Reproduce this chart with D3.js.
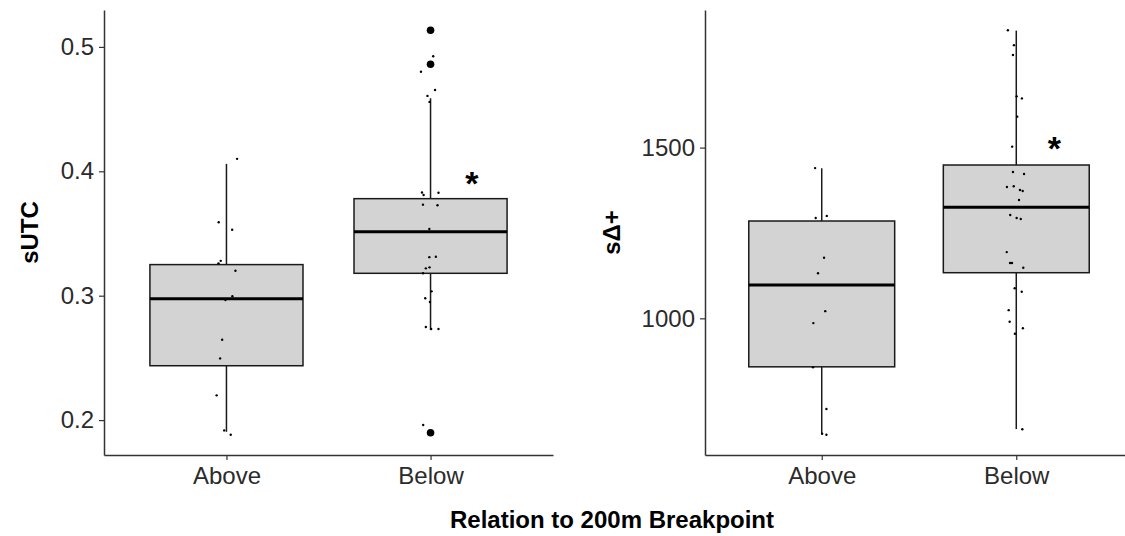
<!DOCTYPE html>
<html>
<head>
<meta charset="utf-8">
<script src="https://cdn.jsdelivr.net/npm/d3@7"></script>
<style>
  body { margin: 0; background: #fff; }
  svg { font-family: 'Liberation Sans', Arial, sans-serif; }
</style>
</head>
<body>
<div id="chart"></div>
<script>
// categorías y estadísticas
const categories = ['Above', 'Below'];

// panel izquierdo: sUTC
const utcLower  = [0.1906, 0.2724];
const utcQ1     = [0.2437, 0.318];
const utcMedian = [0.2976, 0.3514];
const utcQ3     = [0.325, 0.378];
const utcUpper  = [0.406, 0.4587];
const utcOutliers = [[], [0.5134, 0.486, 0.1898]];
const utcPointsAbove = [0.41, 0.359, 0.353, 0.326, 0.328, 0.320, 0.2995, 0.2965, 0.2646, 0.2496, 0.2199, 0.1917, 0.1882];
const utcJitterAbove = [0.052, -0.038, 0.028, -0.039, -0.028, 0.044, 0.029, -0.005, -0.021, -0.031, -0.048, -0.011, 0.021];
const utcPointsBelow = [0.4925, 0.480, 0.4654, 0.4606, 0.4558, 0.383, 0.381, 0.3828, 0.3732, 0.3727, 0.3536, 0.331, 0.3313, 0.322, 0.3228, 0.318, 0.3035, 0.2979, 0.2949, 0.2748, 0.2732, 0.2732, 0.196];
const utcJitterBelow = [0.013, -0.047, 0.022, -0.015, -0.005, -0.042, -0.034, 0.039, -0.037, 0.034, -0.006, -0.006, 0.026, -0.023, -0.005, -0.037, 0.005, -0.026, -0.003, -0.023, 0.003, 0.039, -0.036];
const utcTicks = [0.2, 0.3, 0.4, 0.5];

// panel derecho: sΔ+
const dLower  = [661, 675.7];
const dQ1     = [858, 1133.6];
const dMedian = [1097.6, 1325];
const dQ3     = [1285, 1449];
const dUpper  = [1439.5, 1842.6];
const dOutliers = [[], []];
const dPointsAbove = [1440, 1294, 1300, 1177.5, 1131.8, 1021, 986, 856.5, 734.3, 662, 659];
const dJitterAbove = [-0.034, -0.031, 0.026, 0.012, -0.019, 0.018, -0.043, -0.045, 0.024, 0.002, 0.024];
const dPointsBelow = [1843.7, 1800, 1771, 1650, 1644, 1590.6, 1502.7, 1428.6, 1422.8, 1384.7, 1386.7, 1376, 1373, 1346.6, 1302.6, 1293.8, 1291, 1194, 1162, 1162, 1148, 1088, 1078, 1024, 990, 971, 955, 675];
const dJitterBelow = [-0.043, -0.012, -0.017, 0.002, 0.029, 0.005, -0.021, -0.017, 0.040, -0.048, -0.013, 0.019, 0.033, 0.014, -0.031, 0.002, 0.023, -0.049, -0.032, -0.022, 0.036, -0.008, 0.028, -0.039, -0.034, 0.034, -0.007, 0.031];
const dTicks = [1000, 1500];

// asterisco de significancia (posición en unidades de datos)
const starUtc = { cat: 'Below', offset: 0.203, value: 0.3957 };
const starD = { cat: 'Below', offset: 0.196, value: 1517 };

const width = 1125, height = 536;
const svg = d3.select('#chart').append('svg')
    .attr('width', width)
    .attr('height', height);

function drawPanel(opts) {
    const { x0, x1, y0, y1, lower, q1, median, q3, upper, outliers, points, jitters, ticks, fmt, title, star } = opts;

    const allVals = points.flat().concat(outliers.flat()).concat(lower, upper);
    const [mn, mx] = d3.extent(allVals);
    const pad = (mx - mn) * 0.05;

    const x = d3.scalePoint().domain(categories).range([x0, x1]).padding(0.6);
    const y = d3.scaleLinear().domain([mn - pad, mx + pad]).range([y1, y0]);
    const step = x.step();
    const bw = step * 0.75;

    const g = svg.append('g');

    // cajas
    categories.forEach((c, i) => {
        const cx = x(c);
        g.append('line')
            .attr('x1', cx).attr('x2', cx)
            .attr('y1', y(upper[i])).attr('y2', y(q3[i]))
            .attr('stroke', '#1a1a1a').attr('stroke-width', 1.5);
        g.append('line')
            .attr('x1', cx).attr('x2', cx)
            .attr('y1', y(q1[i])).attr('y2', y(lower[i]))
            .attr('stroke', '#1a1a1a').attr('stroke-width', 1.5);
        g.append('rect')
            .attr('x', cx - bw / 2).attr('width', bw)
            .attr('y', y(q3[i])).attr('height', y(q1[i]) - y(q3[i]))
            .attr('fill', '#d3d3d3')
            .attr('stroke', '#1a1a1a').attr('stroke-width', 1.5);
        g.append('line')
            .attr('x1', cx - bw / 2).attr('x2', cx + bw / 2)
            .attr('y1', y(median[i])).attr('y2', y(median[i]))
            .attr('stroke', '#000').attr('stroke-width', 3);
        outliers[i].forEach(v => {
            g.append('circle')
                .attr('cx', cx).attr('cy', y(v))
                .attr('r', 3.8).attr('fill', '#000');
        });
    });

    // puntos con jitter
    categories.forEach((c, i) => {
        points[i].forEach((v, j) => {
            g.append('circle')
                .attr('cx', x(c) + jitters[i][j] * step)
                .attr('cy', y(v))
                .attr('r', 1.2)
                .attr('fill', '#000');
        });
    });

    // ejes
    const yAxis = g.append('g')
        .attr('transform', `translate(${x0},0)`)
        .call(d3.axisLeft(y).tickValues(ticks).tickFormat(fmt).tickSize(5).tickSizeOuter(0).tickPadding(5));
    const xAxis = g.append('g')
        .attr('transform', `translate(0,${y1})`)
        .call(d3.axisBottom(x).tickSize(5).tickSizeOuter(0).tickPadding(7));

    [yAxis, xAxis].forEach(a => {
        a.select('.domain').attr('stroke', '#333').attr('stroke-width', 1.5);
        a.selectAll('.tick line').attr('stroke', '#333').attr('stroke-width', 1.2);
        a.selectAll('.tick text')
            .attr('fill', '#2b2b2b')
            .attr('font-size', '24px')
            .attr('font-family', "'Liberation Sans', Arial, sans-serif");
    });

    // título eje y
    g.append('text')
        .attr('transform', `translate(${opts.titleX},${(y0 + y1) / 2}) rotate(-90)`)
        .attr('text-anchor', 'middle')
        .attr('font-size', '24px')
        .attr('font-weight', 'bold')
        .attr('fill', '#000')
        .text(title);

    // asterisco
    g.append('text')
        .attr('x', x(star.cat) + star.offset * step)
        .attr('y', y(star.value))
        .attr('dy', '0.55em')
        .attr('text-anchor', 'middle')
        .attr('font-size', '34px')
        .attr('font-weight', 'bold')
        .attr('fill', '#000')
        .text('*');
}

drawPanel({
    x0: 104, x1: 553, y0: 10, y1: 455, titleX: 38,
    lower: utcLower, q1: utcQ1, median: utcMedian, q3: utcQ3, upper: utcUpper,
    outliers: utcOutliers,
    points: [utcPointsAbove, utcPointsBelow],
    jitters: [utcJitterAbove, utcJitterBelow],
    ticks: utcTicks, fmt: d3.format('.1f'), title: 'sUTC', star: starUtc
});

drawPanel({
    x0: 705, x1: 1133, y0: 10, y1: 455, titleX: 620,
    lower: dLower, q1: dQ1, median: dMedian, q3: dQ3, upper: dUpper,
    outliers: dOutliers,
    points: [dPointsAbove, dPointsBelow],
    jitters: [dJitterAbove, dJitterBelow],
    ticks: dTicks, fmt: d3.format('d'), title: 'sΔ+', star: starD
});

// título eje x común
svg.append('text')
    .attr('x', 612)
    .attr('y', 528)
    .attr('text-anchor', 'middle')
    .attr('font-size', '24px')
    .attr('font-weight', 'bold')
    .attr('fill', '#000')
    .text('Relation to 200m Breakpoint');
</script>
</body>
</html>
